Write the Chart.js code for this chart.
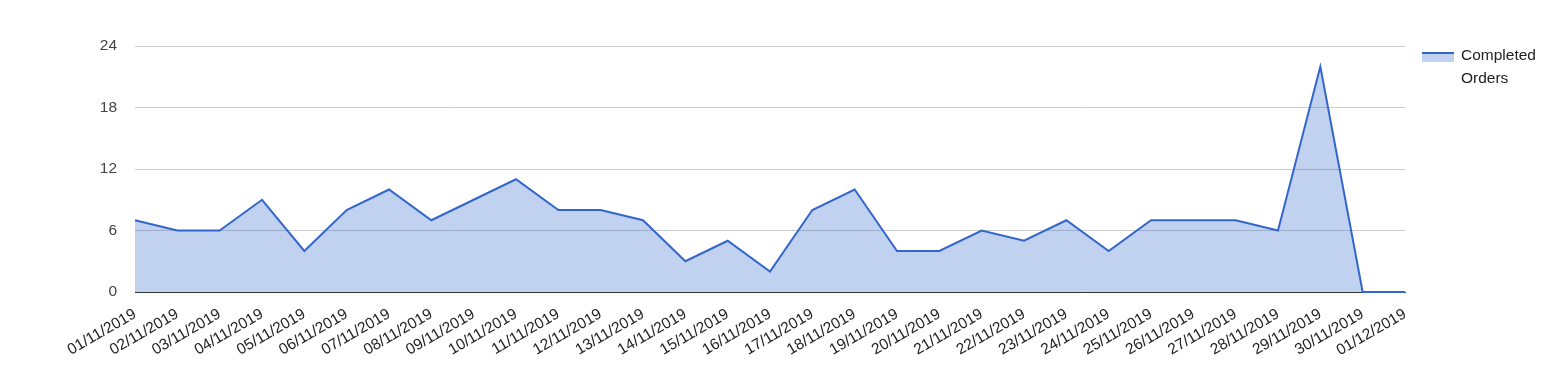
<!DOCTYPE html>
<html>
<head>
<meta charset="utf-8">
<script src="https://cdn.jsdelivr.net/npm/chart.js@4/dist/chart.umd.min.js"></script>
<style>
  html, body { margin: 0; padding: 0; background: #fff; }
  #wrap { position: relative; width: 1567px; height: 378px; }
  canvas { display: block; }
  #legend { position: absolute; left: 1422px; top: 43px; font-family: "Liberation Sans", Arial, sans-serif; font-size: 15.5px; color: #222; }
  #legend .sym { position: absolute; left: 0; top: 9px; width: 32px; height: 8px; background: rgba(51,102,204,0.3); border-top: 2px solid #3366cc; }
  #legend .txt { position: absolute; left: 39px; top: 0; line-height: 23px; white-space: nowrap; }
</style>
</head>
<body>
<div id="wrap">
  <canvas id="c" width="1567" height="378"></canvas>
  <div id="legend"><div class="sym"></div><div class="txt">Completed<br>Orders</div></div>
</div>
<script>
const categories = ["01/11/2019","02/11/2019","03/11/2019","04/11/2019","05/11/2019","06/11/2019","07/11/2019","08/11/2019","09/11/2019","10/11/2019","11/11/2019","12/11/2019","13/11/2019","14/11/2019","15/11/2019","16/11/2019","17/11/2019","18/11/2019","19/11/2019","20/11/2019","21/11/2019","22/11/2019","23/11/2019","24/11/2019","25/11/2019","26/11/2019","27/11/2019","28/11/2019","29/11/2019","30/11/2019","01/12/2019"];
const completedOrders = [7,6,6,9,4,8,10,7,9,11,8,8,7,3,5,2,8,10,4,4,6,5,7,4,7,7,7,6,22,0,0];
const seriesName = "Completed Orders";
const yTicks = [0, 6, 12, 18, 24];

new Chart(document.getElementById('c'), {
  type: 'line',
  data: {
    labels: categories,
    datasets: [{
      label: seriesName,
      data: completedOrders,
      borderColor: '#3366cc',
      backgroundColor: 'rgba(51,102,204,0.3)',
      borderWidth: 2,
      fill: 'origin',
      pointRadius: 0,
      tension: 0,
      clip: false
    }]
  },
  options: {
    responsive: false,
    animation: false,
    layout: { padding: { top: 46, right: 162, left: 0, bottom: 0 } },
    plugins: { legend: { display: false }, tooltip: { enabled: false } },
    scales: {
      x: {
        offset: false,
        grid: { display: false, drawTicks: false },
        border: { display: true, color: '#333', width: 1, z: -1 },
        ticks: {
          autoSkip: false, minRotation: 30, maxRotation: 30,
          color: '#222', padding: 13,
          font: { family: '"Liberation Sans", Arial, sans-serif', size: 15.5 }
        },
        afterFit: s => { s.height = 86; }
      },
      y: {
        min: 0, max: 24,
        afterBuildTicks: s => { s.ticks = yTicks.map(v => ({ value: v })); },
        grid: {
          drawTicks: false,
          color: ctx => (ctx.tick && ctx.tick.value === 0) ? '#333' : '#cccccc',
          lineWidth: 1
        },
        border: { display: false },
        ticks: {
          color: '#444', padding: 18,
          font: { family: '"Liberation Sans", Arial, sans-serif', size: 15.5 }
        },
        afterFit: s => { s.width = 135; }
      }
    }
  }
});
</script>
</body>
</html>
